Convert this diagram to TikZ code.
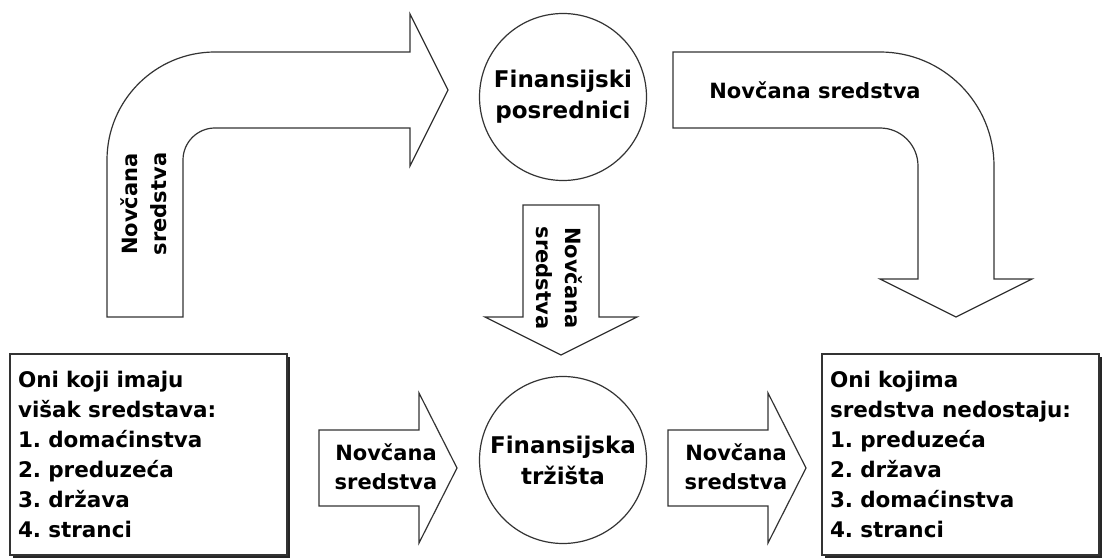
\documentclass[tikz,border=0pt]{standalone}
\usepackage{fontspec}
\setmainfont{DejaVu Sans}
\usetikzlibrary{shadows}
\frenchspacing

\begin{document}
\begin{tikzpicture}[
    x=1pt, y=-1pt,
    line join=miter,
    barrow/.style={draw=black!80, line width=1.2pt, fill=white},
    inst/.style={circle, draw=black!80, line width=1.2pt, fill=white,
                 minimum size=167pt, inner sep=0pt, align=center,
                 font=\bfseries\fontsize{23}{31}\selectfont},
    group/.style={rectangle, draw=black!80, line width=1.2pt, fill=white,
                  minimum width=277pt, minimum height=201pt, inner xsep=8pt,
                  text width=261pt, align=left,
                  font=\bfseries\fontsize{21.5}{30}\selectfont,
                  drop shadow={shadow xshift=3pt, shadow yshift=-3pt,
                               fill=black!85, opacity=1}},
    flowlab/.style={align=center, inner sep=0pt,
                    font=\bfseries\fontsize{21}{29}\selectfont},
]
\useasboundingbox (0,0) rectangle (1103,559);

% ---- bent arrow: surplus -> intermediaries ----
\draw[barrow] (107,317) -- (107,160) arc[start angle=180, end angle=270, radius=108]
    -- (410,52) -- (410,14) -- (448,90) -- (410,166) -- (410,128)
    -- (215,128) arc[start angle=270, end angle=180, radius=32] -- (183,317) -- cycle;
\node[flowlab, rotate=90] (fL) at (144,204) {Novčana\\sredstva};

% ---- bent arrow: intermediaries -> deficit ----
\draw[barrow] (673,52) -- (880,52) arc[start angle=270, end angle=360, radius=114]
    -- (994,279) -- (1032,279) -- (956,317) -- (880,279) -- (918,279)
    -- (918,166) arc[start angle=0, end angle=-90, radius=38] -- (673,128) -- cycle;
\node[flowlab] (fR) at (815,90) {Novčana sredstva};

% ---- down arrow between the two circles ----
\draw[barrow] (523,205) -- (599,205) -- (599,317) -- (637,317) -- (561,355)
    -- (485,317) -- (523,317) -- cycle;
\node[flowlab, rotate=-90] (fM) at (559,278) {Novčana\\sredstva};

% ---- straight arrows along the bottom ----
\draw[barrow] (319,430) -- (419,430) -- (419,393) -- (457,468) -- (419,543)
    -- (419,506) -- (319,506) -- cycle;
\node[flowlab] (fBL) at (386,467) {Novčana\\sredstva};
\draw[barrow] (668,430) -- (768,430) -- (768,393) -- (806,468) -- (768,543)
    -- (768,506) -- (668,506) -- cycle;
\node[flowlab] (fBR) at (736,467) {Novčana\\sredstva};

% ---- institutions ----
\node[inst] (posr) at (563,97) {Finansijski\\posrednici};
\node[inst] (trz) at (563,460) {Finansijska\\tržišta};

% ---- surplus and deficit units ----
\node[group] (surplus) at (148.5,454.5)
    {Oni koji imaju\\višak sredstava:\\1. domaćinstva\\2. preduzeća\\3. država\\4. stranci};
\node[group] (deficit) at (960.5,454.5)
    {Oni kojima\\sredstva nedostaju:\\1. preduzeća\\2. država\\3. domaćinstva\\4. stranci};
\end{tikzpicture}
\end{document}
